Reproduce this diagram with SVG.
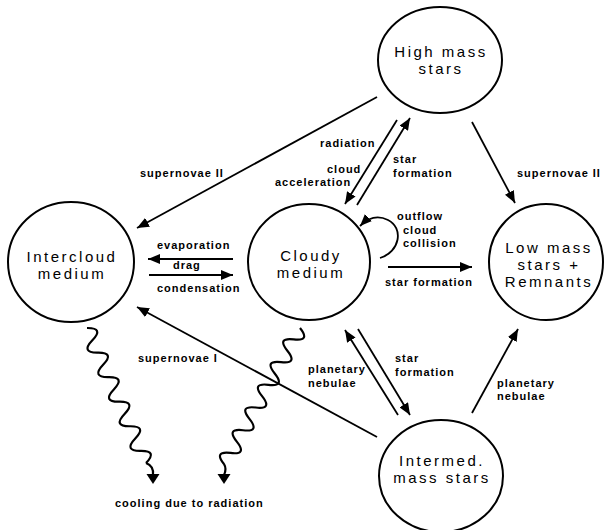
<svg xmlns="http://www.w3.org/2000/svg" width="604" height="530" viewBox="0 0 604 530">
<defs>
<marker id="ah" markerUnits="userSpaceOnUse" markerWidth="13" markerHeight="10" refX="12" refY="5" orient="auto">
<path d="M0,0 L12,5 L0,10 z" fill="#000"/>
</marker>
<style>
.node ellipse{fill:#fff;stroke:#000;stroke-width:2}
.nt{font-family:"Liberation Sans",Arial,sans-serif;font-size:15px;letter-spacing:2.5px;text-anchor:middle;fill:#000}
.lb{font-family:"Liberation Sans",Arial,sans-serif;font-size:11px;font-weight:bold;letter-spacing:1px;fill:#000}
.c{fill:none;stroke:#000;stroke-width:1.8;marker-end:url(#ah)}
.w{fill:none;stroke:#000;stroke-width:2.2}
</style>
</defs>
<rect width="604" height="530" fill="#fff"/>
<g id="connectors">
<path class="c" d="M377,97 L137,228"/>
<path class="c" d="M357,205 L410,118"/>
<path class="c" d="M397,120 L345,204"/>
<path class="c" d="M472,122 L515,203"/>
<path class="c" d="M233,259 L148,259"/>
<path class="c" d="M149,275 L233,275"/>
<path class="c" d="M388,267 L472,267"/>
<path class="c" d="M380,258 C400,252 404,228 388,220 C378,215 368,218 360,226"/>
<path class="c" d="M377,437 L137,307"/>
<path class="c" d="M398,415 L345,330"/>
<path class="c" d="M358,329 L410,415"/>
<path class="c" d="M472,413 L518,329"/>
<g id="wave-left">
<path class="w" transform="translate(87,328) rotate(-23.6)" d="M0,0 q16,6.7 0,13.4 t0,13.4 t0,13.4 t0,13.4 t0,13.4 t0,13.4 t0,13.4 t0,13.4 t0,13.4 t0,13.4 t0,13.4"/>
<path class="w" d="M146,463 Q154,466 153,475"/>
<polygon points="146.5,474 159.5,474 153,484" fill="#000"/>
</g>
<g id="wave-right">
<path class="w" transform="translate(300,328) rotate(29.1)" d="M0,0 q16,6.5 0,13 t0,13 t0,13 t0,13 t0,13 t0,13 t0,13 t0,13 t0,13 t0,13 t0,13 t0,13"/>
<path class="w" d="M224,464 Q227,469 224,475"/>
<polygon points="217.5,474 230.5,474 224,484" fill="#000"/>
</g>
</g>
<g id="labels">
<text class="lb" x="140" y="177">supernovae II</text>
<text class="lb" x="320" y="147">radiation</text>
<text class="lb" x="327" y="173">cloud</text>
<text class="lb" x="275" y="186">acceleration</text>
<text class="lb" x="393" y="163">star</text>
<text class="lb" x="393" y="177">formation</text>
<text class="lb" x="517" y="177">supernovae II</text>
<text class="lb" x="157" y="249">evaporation</text>
<text class="lb" x="173" y="269">drag</text>
<text class="lb" x="157" y="292">condensation</text>
<text class="lb" x="397" y="220">outflow</text>
<text class="lb" x="403" y="234">cloud</text>
<text class="lb" x="403" y="247">collision</text>
<text class="lb" x="385" y="286">star formation</text>
<text class="lb" x="138" y="362">supernovae I</text>
<text class="lb" x="308" y="373">planetary</text>
<text class="lb" x="308" y="387">nebulae</text>
<text class="lb" x="395" y="362">star</text>
<text class="lb" x="395" y="376">formation</text>
<text class="lb" x="497" y="387">planetary</text>
<text class="lb" x="497" y="400">nebulae</text>
<text class="lb" x="115" y="507">cooling due to radiation</text>
</g>
<g id="high-mass" class="node">
<ellipse cx="440" cy="60" rx="62" ry="53"/>
<text class="nt" x="441" y="57">High mass</text>
<text class="nt" x="441" y="74">stars</text>
</g>
<g id="intercloud" class="node">
<ellipse cx="71" cy="262" rx="63" ry="60"/>
<text class="nt" x="72" y="262">Intercloud</text>
<text class="nt" x="72" y="279">medium</text>
</g>
<g id="cloudy" class="node">
<ellipse cx="309" cy="262" rx="61" ry="58"/>
<text class="nt" x="311" y="261">Cloudy</text>
<text class="nt" x="311" y="278">medium</text>
</g>
<g id="low-mass" class="node">
<ellipse cx="546" cy="262" rx="57" ry="58"/>
<text class="nt" x="549" y="253">Low mass</text>
<text class="nt" x="549" y="270">stars +</text>
<text class="nt" x="549" y="287">Remnants</text>
</g>
<g id="intermed" class="node">
<ellipse cx="441" cy="476" rx="62" ry="56"/>
<text class="nt" x="442" y="466">Intermed.</text>
<text class="nt" x="442" y="483">mass stars</text>
</g>
</svg>
